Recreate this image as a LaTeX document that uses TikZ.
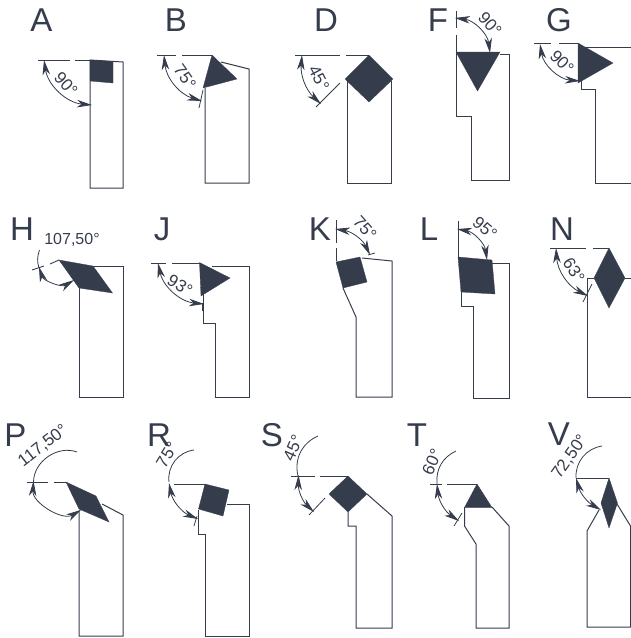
\documentclass[tikz,border=0pt]{standalone}
\usepackage{fontspec}
\setmainfont{Liberation Sans}
\usetikzlibrary{arrows.meta}
\definecolor{toolink}{HTML}{353C4C}
\tikzset{
  LetterStyle/.style = { inner sep=0pt, text = toolink,
                         font = \fontsize{33}{33}\selectfont },
  AngleStyle/.style  = { inner sep=0pt, text = toolink,
                         font = \fontsize{17}{17}\selectfont },
  HolderStyle/.style = { draw=toolink, line width=1pt, line join=miter },
  InsertStyle/.style = { fill=toolink, draw=toolink, line width=0.3pt },
  AxisStyle/.style   = { draw=toolink, line width=0.9pt },
  DimStyle/.style    = { draw=toolink, line width=0.8pt, <->,
                         >={Stealth[length=15pt,width=7.5pt,inset=4.5pt]} },
  ExtStyle/.style    = { draw=toolink, line width=0.8pt } }

\begin{document}
\begin{tikzpicture}[x=1pt,y=-1pt]
  \useasboundingbox (0,0) rectangle (631,638);
  % top row
  \node[LetterStyle](A) at (41.5,20) {A};
  \draw[HolderStyle] (90,60) -- (123,62) -- (123,188) -- (90,188) -- cycle;
  \fill[InsertStyle] (90,60) -- (113,61.5) -- (113,83) -- (90,81) -- cycle;
  \draw[AxisStyle] (38,60) -- (70,60) (75,60) -- (90,60);
  \draw[DimStyle] (44,60) to[bend right=38] (92,105);
  \node[AngleStyle,rotate=-48](a90) at (66,84) {90°};

  \node[LetterStyle](B) at (176,20) {B};
  \draw[HolderStyle] (221,62) -- (249,69) -- (249,183) -- (205,183) -- (205,88);
  \fill[InsertStyle] (212,55) -- (237,79) -- (203,88) -- cycle;
  \draw[AxisStyle] (157,55) -- (176,55) (182,55) -- (212,55);
  \draw[ExtStyle] (203,90) -- (199,108);
  \draw[DimStyle] (164,55) to[bend right=34] (202,101);
  \node[AngleStyle,rotate=-55](b75) at (185,77) {75°};

  \node[LetterStyle](D) at (326,20) {D};
  \draw[HolderStyle] (347,81) -- (347,183) -- (391,183) -- (391,81);
  \fill[InsertStyle] (369,55) -- (393,79) -- (369,102) -- (345,79) -- cycle;
  \draw[AxisStyle] (295,55) -- (340,55) (346,55) -- (369,55);
  \draw[ExtStyle] (340,83) -- (316,107);
  \draw[DimStyle] (302,55) to[bend right=26] (321,104);
  \node[AngleStyle,rotate=-62](d45) at (319,78) {45°};

  \node[LetterStyle](F) at (438,20) {F};
  \draw[HolderStyle] (500,54) -- (509,54) -- (509,180) -- (471,180) -- (471,116) -- (456,116) -- (456,52);
  \fill[InsertStyle] (456,52) -- (500,52) -- (477.5,91) -- cycle;
  \draw[AxisStyle] (456,11) -- (456,28) (456,35) -- (456,52);
  \draw[DimStyle] (455,18) to[bend left=38] (490,53);
  \node[AngleStyle,rotate=-48](f90) at (490,24) {90°};

  \node[LetterStyle](G) at (559,20) {G};
  \draw[HolderStyle] (578,47) -- (631,47) -- (631,183) -- (595,183) -- (595,89) -- (581,89) -- (581,80);
  \fill[InsertStyle] (578,43) -- (613,63) -- (578,83) -- cycle;
  \draw[AxisStyle] (534,43) -- (551,43) (559,43) -- (578,43);
  \draw[DimStyle] (540,44) to[bend right=38] (580,81);
  \node[AngleStyle,rotate=-45](g90) at (562,62) {90°};

  % middle row
  \node[LetterStyle](H) at (22,229) {H};
  \draw[HolderStyle] (79,288) -- (79,397) -- (123,397) -- (123,266) -- (93,266);
  \fill[InsertStyle] (59,260) -- (93,266) -- (112.5,293) -- (79,288) -- cycle;
  \draw[AxisStyle] (32,270) -- (44,266) (50,264) -- (59,260);
  \draw[ExtStyle] (39.5,250) to[bend right=18] (39,268);
  \draw[DimStyle] (39,267) to[bend right=52] (74,280);
  \node[AngleStyle,font=\fontsize{16}{16}\selectfont](h107) at (72,240) {107,50°};

  \node[LetterStyle](J) at (162,229) {J};
  \draw[HolderStyle] (212,266) -- (249,266) -- (249,397) -- (215,397) -- (215,323) -- (203.5,323) -- (203.5,293);
  \fill[InsertStyle] (199.5,262.5) -- (230,278) -- (201,296) -- cycle;
  \draw[AxisStyle] (151,263) -- (166,263) (172,263) -- (200,263);
  \draw[ExtStyle] (202.5,303) -- (202.5,311);
  \draw[DimStyle] (158,263) to[bend right=36] (204,304);
  \node[AngleStyle,rotate=-32](j93) at (180,285) {93°};

  \node[LetterStyle](K) at (320,229) {K};
  \draw[HolderStyle] (343,288) -- (356,317) -- (356,397) -- (392,397) -- (392,261) -- (362,258);
  \fill[InsertStyle] (336,262) -- (360,257) -- (367,282) -- (343,288) -- cycle;
  \draw[AxisStyle] (336,220) -- (336,243) (336,248) -- (336,261);
  \draw[ExtStyle] (368,255) -- (375,253);
  \draw[DimStyle] (335,229) to[bend left=28] (370,255);
  \node[AngleStyle,rotate=-48](k75) at (365,228) {75°};

  \node[LetterStyle](L) at (429,229) {L};
  \draw[HolderStyle] (492,263) -- (509,263) -- (509,398) -- (473,398) -- (473,306) -- (461.5,306) -- (461.5,292);
  \fill[InsertStyle] (458,257) -- (492,260) -- (495,294) -- (461,292) -- cycle;
  \draw[AxisStyle] (458,221) -- (458,257);
  \draw[DimStyle] (457,229) to[bend left=36] (487,260);
  \node[AngleStyle,rotate=-40](l95) at (485,228) {95°};

  \node[LetterStyle](N) at (562,229) {N};
  \draw[HolderStyle] (594,278) -- (587,278) -- (587,397) -- (631,397) -- (631,278) -- (625,278);
  \fill[InsertStyle] (609,248) -- (625,278) -- (609,308) -- (594,278) -- cycle;
  \draw[AxisStyle] (550,248) -- (586,248) (593,248) -- (609,248);
  \draw[ExtStyle] (592,284) -- (583,302);
  \draw[DimStyle] (556,248) to[bend right=30] (588,296);
  \node[AngleStyle,rotate=-58](n63) at (574,270) {63°};

  % bottom row
  \node[LetterStyle](P) at (15.5,435) {P};
  \draw[HolderStyle] (79,510) -- (79,636) -- (123,636) -- (123,515) -- (102,504);
  \fill[InsertStyle] (66,482) -- (96,496) -- (109,522) -- (79,509) -- cycle;
  \draw[AxisStyle] (27,482) -- (48,482) (54,482) -- (66,482);
  \draw[ExtStyle] (77,452) to[bend right=55] (33.5,482);
  \draw[DimStyle] (33.5,481) to[bend right=62] (81,510);
  \node[AngleStyle,rotate=38](p117) at (43,446) {117,50°};

  \node[LetterStyle](R) at (159,435) {R};
  \draw[HolderStyle] (227,504) -- (249,504) -- (249,636) -- (205,636) -- (205,534) -- (198.5,534) -- (198.5,510);
  \fill[InsertStyle] (205,484) -- (229,490) -- (223,516) -- (198.5,509) -- cycle;
  \draw[AxisStyle] (174,484) -- (205,484);
  \draw[ExtStyle] (194,450) to[bend right=45] (169,482);
  \draw[ExtStyle] (197,516) -- (194,526);
  \draw[DimStyle] (169,483) to[bend right=28] (198,519);
  \node[AngleStyle,rotate=58](r75) at (167,455) {75°};

  \node[LetterStyle](S) at (272,435) {S};
  \draw[HolderStyle] (348,512) -- (348,526) -- (356,526) -- (356,628) -- (392,628) -- (392,516) -- (367,494);
  \fill[InsertStyle] (348,476) -- (367,494) -- (348,512) -- (329,494) -- cycle;
  \draw[AxisStyle] (291,476) -- (315,476) (320,476) -- (348,476);
  \draw[ExtStyle] (318,436) to[bend right=40] (298,476);
  \draw[ExtStyle] (325,498) -- (309,515);
  \draw[DimStyle] (298.5,475) to[bend right=24] (314,512);
  \node[AngleStyle,rotate=66](s45) at (293,448) {45°};

  \node[LetterStyle](T) at (417,435) {T};
  \draw[HolderStyle] (464.5,507) -- (464.5,526) -- (476,544) -- (476,628) -- (509,628) -- (509,526) -- (492,507);
  \fill[InsertStyle] (477,484) -- (492,507.5) -- (464.5,507.5) -- cycle;
  \draw[AxisStyle] (430,484) -- (442,484) (447,484) -- (477,484);
  \draw[ExtStyle] (456,451) to[bend right=35] (437,484);
  \draw[ExtStyle] (462,513) -- (454,526);
  \draw[DimStyle] (437,484) to[bend right=25] (459,521);
  \node[AngleStyle,rotate=66](t60) at (432,462) {60°};

  \node[LetterStyle](V) at (559,434) {V};
  \draw[HolderStyle] (599,510) -- (587,531) -- (587,627) -- (630.5,627) -- (630.5,526) -- (617,504);
  \fill[InsertStyle] (609,478) -- (617.5,503) -- (609,528) -- (601,503) -- cycle;
  \draw[AxisStyle] (576,478) -- (609,478);
  \draw[ExtStyle] (602,446) to[bend right=42] (576,478);
  \draw[DimStyle] (576,478) to[bend right=22] (601,510);
  \node[AngleStyle,rotate=55](v72) at (570,457) {72,50°};
\end{tikzpicture}
\end{document}
